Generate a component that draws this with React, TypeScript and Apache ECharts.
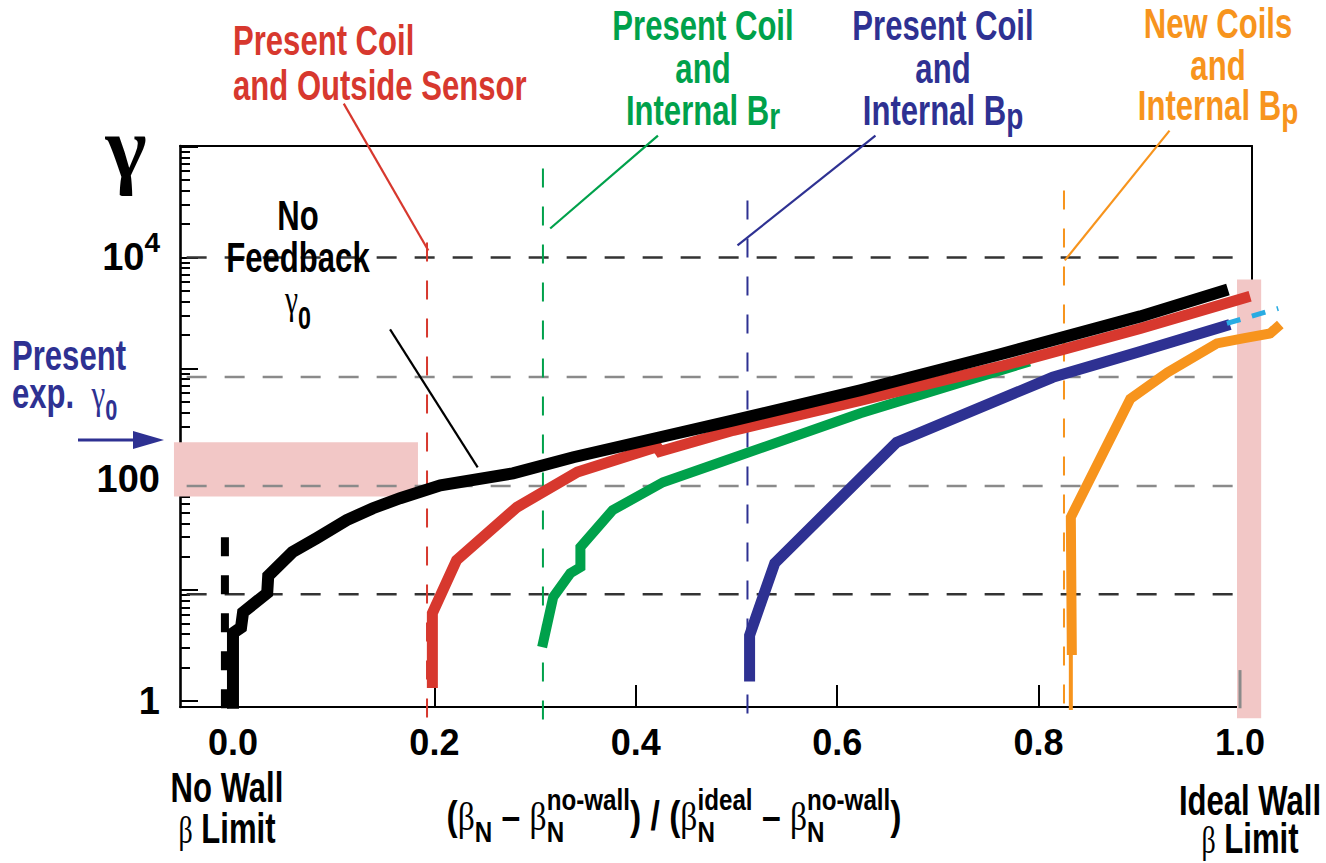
import React, { useEffect, useRef } from "react";
import * as echarts from "echarts";

const W = 1326;
const H = 863;

// ---------------- data: [normalized beta, growth rate gamma] ----------------
const noFeedback: [number, number][] = [
  [0, 0.85], [0, 4.1], [0.008, 4.6], [0.01, 6.3], [0.034, 9.4], [0.035, 13.4],
  [0.059, 22], [0.083, 29.4], [0.113, 42.8], [0.139, 54.8], [0.166, 67.5],
  [0.206, 88], [0.278, 113], [0.338, 158], [0.424, 239], [0.497, 340],
  [0.623, 634], [0.762, 1340], [0.901, 2940], [0.988, 5150],
];
const outsideSensor: [number, number][] = [
  [0.198, 1.31], [0.198, 6.2], [0.222, 18.6], [0.282, 56], [0.342, 116],
  [0.421, 196], [0.424, 178], [0.497, 276], [0.623, 515], [0.762, 1040],
  [0.901, 2290], [1.01, 4460],
];
const internalBr: [number, number][] = [
  [0.307, 3.06], [0.318, 8.65], [0.335, 14.2], [0.345, 16.1], [0.345, 24.4],
  [0.377, 52.6], [0.427, 94], [0.484, 142], [0.623, 393], [0.791, 1156],
];
const internalBp: [number, number][] = [
  [0.513, 1.5], [0.513, 3.9], [0.538, 17.5], [0.659, 215], [0.814, 830],
  [0.901, 1420], [0.99, 2490],
];
const internalBpExtension: [number, number][] = [[0.987, 2540], [1.038, 3470]];
const newCoilsLow: [number, number][] = [[0.832, 0.83], [0.832, 2.6]];
const newCoils: [number, number][] = [
  [0.833, 2.6], [0.832, 45.5], [0.891, 530], [0.928, 920], [0.977, 1679],
  [1.003, 1862], [1.03, 2067], [1.04, 2490],
];
const noWallMarker: [number, number][] = [[-0.008, 30], [-0.008, 0.86]];
const idealWallMarker: [number, number][] = [[1.0, 0.86], [1.0, 1.9]];

// horizontal reference levels of gamma
const referenceLevels = [10000, 835, 87, 9.2];
const referenceLevelRange = [-0.046, 1.0];

// feedback limits: [x, gamma top, gamma bottom]
const feedbackLimits: [number, number, number][] = [
  [0.1927, 13650, 0.62],
  [0.3078, 63400, 0.674],
  [0.5109, 32640, 0.674],
  [0.8252, 40180, 0.75],
];

// leader lines from labels: [[x, gamma], [x, gamma]]
const leaders: [number, number][][] = [
  [[0.110, 244000], [0.194, 11550]],
  [[0.422, 125600], [0.315, 18250]],
  [[0.638, 125600], [0.501, 12830]],
  [[0.930, 139300], [0.826, 9400]],
  [[0.156, 2245], [0.243, 128]],
];

// shaded bands: [x0, x1, gamma low, gamma high]
const presentExpBand = [-0.0586, 0.1837, 70, 215];
const idealWallBand = [0.997, 1.021, 0.7, 6340];

// axes
const yMajorDecades = [0, 1, 2, 3, 4, 5];
const yLabelDecades = [0, 2, 4];
const xTickValues = [0.2, 0.4, 0.6, 0.8];
const xLabelValues = [0, 0.2, 0.4, 0.6, 0.8, 1.0];

// ---------------- styles ----------------
const RED = "#d7382e";
const GREEN = "#00a14b";
const BLUE = "#2e3192";
const ORANGE = "#f7941d";
const CYAN = "#29abe2";
const PINK = "#f2c7c6";
const NARROW = '"Liberation Sans Narrow", "Liberation Sans", Arial, sans-serif';
const SANS = '"Liberation Sans", Arial, sans-serif';
const SERIF = '"Liberation Serif", "Times New Roman", serif';

const X_MIN = -0.0526;
const X_MAX = 1.0119;
const Y_MIN = -0.054;
const Y_MAX = 5.005;

const lg = (v: number) => Math.log10(v);
const toXY = (pts: [number, number][]) => pts.map(([x, g]) => [x, lg(g)]);

// polyline drawn through the cartesian scales, not clipped to the grid
function polySeries(pts: [number, number][], color: string, width: number, z: number, dash?: number[]) {
  const data = toXY(pts);
  return {
    type: "custom",
    data,
    clip: false,
    silent: true,
    z,
    encode: { x: 0, y: 1 },
    renderItem: (params: any, api: any) => {
      if (params.dataIndex !== 0) return null;
      const points = data.map((d) => api.coord(d));
      return {
        type: "polyline",
        shape: { points },
        style: {
          stroke: color,
          lineWidth: width,
          fill: "none",
          lineDash: dash || null,
          lineCap: "butt",
          lineJoin: "miter",
          miterLimit: 4,
        },
      };
    },
  };
}

function bandSeries(band: number[]) {
  return {
    type: "custom",
    data: [band],
    clip: false,
    silent: true,
    z: 1,
    encode: { x: [0, 1], y: [2, 3] },
    renderItem: (_p: any, api: any) => {
      const a = api.coord([api.value(0), lg(api.value(3))]);
      const b = api.coord([api.value(1), lg(api.value(2))]);
      return {
        type: "rect",
        shape: { x: a[0], y: a[1], width: b[0] - a[0], height: b[1] - a[1] },
        style: { fill: PINK },
      };
    },
  };
}

// ---------------- annotation text ----------------
type Seg = { t: string; greek?: boolean; heavy?: boolean; r?: number; dy?: number; keep?: boolean };
type TLine = { segs: Seg[]; baseline: number };
type Label = { x: number; align: "left" | "center"; color: string; size: number; sx: number; lines: TLine[] };

const S = (t: string): Seg => ({ t });

const labels: Label[] = [
  { x: 233, align: "left", color: RED, size: 42, sx: 0.74, lines: [
    { segs: [S("Present Coil")], baseline: 55 },
    { segs: [S("and Outside Sensor")], baseline: 100 },
  ] },
  { x: 703, align: "center", color: GREEN, size: 42, sx: 0.74, lines: [
    { segs: [S("Present Coil")], baseline: 40 },
    { segs: [S("and")], baseline: 83 },
    { segs: [S("Internal B"), { t: "r", r: 0.9, dy: 4 }], baseline: 125 },
  ] },
  { x: 943, align: "center", color: BLUE, size: 42, sx: 0.74, lines: [
    { segs: [S("Present Coil")], baseline: 40 },
    { segs: [S("and")], baseline: 83 },
    { segs: [S("Internal B"), { t: "p", r: 0.9, dy: 4 }], baseline: 125 },
  ] },
  { x: 1218, align: "center", color: ORANGE, size: 42, sx: 0.74, lines: [
    { segs: [S("New Coils")], baseline: 38 },
    { segs: [S("and")], baseline: 80 },
    { segs: [S("Internal B"), { t: "p", r: 0.9, dy: 4 }], baseline: 120 },
  ] },
  { x: 298, align: "center", color: "#000", size: 42, sx: 0.74, lines: [
    { segs: [S("No")], baseline: 230 },
    { segs: [S("Feedback")], baseline: 272 },
    { segs: [{ t: "γ", greek: true, r: 0.95 }, { t: "0", r: 0.75, dy: 15 }], baseline: 314 },
  ] },
  { x: 12, align: "left", color: BLUE, size: 42, sx: 0.74, lines: [
    { segs: [S("Present")], baseline: 370 },
    { segs: [S("exp.  "), { t: "γ", greek: true }, { t: "0", r: 0.7, dy: 12 }], baseline: 408 },
  ] },
  { x: 227, align: "center", color: "#000", size: 42, sx: 0.74, lines: [
    { segs: [S("No Wall")], baseline: 802 },
    { segs: [{ t: "β", greek: true, r: 0.9 }, S(" Limit")], baseline: 843 },
  ] },
  { x: 1250, align: "center", color: "#000", size: 42, sx: 0.74, lines: [
    { segs: [S("Ideal Wall")], baseline: 815 },
    { segs: [{ t: "β", greek: true, r: 0.9 }, S(" Limit")], baseline: 853 },
  ] },
  { x: 126, align: "center", color: "#000", size: 88, sx: 1, lines: [
    { segs: [{ t: "γ", greek: true, heavy: true }], baseline: 178 },
  ] },
  { x: 674, align: "center", color: "#000", size: 40, sx: 0.84, lines: [
    { segs: [
      S("("), { t: "β", greek: true }, { t: "N", r: 0.72, dy: 12 }, S(" – "),
      { t: "β", greek: true }, { t: "N", r: 0.72, dy: 12, keep: true }, { t: "no-wall", r: 0.72, dy: -20 },
      S(") / ("), { t: "β", greek: true }, { t: "N", r: 0.72, dy: 12, keep: true }, { t: "ideal", r: 0.72, dy: -20 },
      S(" – "), { t: "β", greek: true }, { t: "N", r: 0.72, dy: 12, keep: true }, { t: "no-wall", r: 0.72, dy: -20 },
      S(")"),
    ], baseline: 830 },
  ] },
];

function buildLabelElements(): any[] {
  const canvas = document.createElement("canvas");
  const ctx = canvas.getContext("2d")!;
  const els: any[] = [];
  for (const lab of labels) {
    for (const line of lab.lines) {
      let x = 0;
      let pending = 0;
      const placed: any[] = [];
      for (const s of line.segs) {
        const size = lab.size * (s.r ?? 1);
        const fam = s.greek ? SERIF : SANS;
        const weight = s.greek && !s.heavy ? "normal" : "bold";
        ctx.font = `${weight} ${size}px ${fam}`;
        const w = ctx.measureText(s.t).width;
        placed.push({ s, x, size, fam, weight });
        if (s.keep) {
          pending = w;
        } else {
          x += Math.max(w, pending);
          pending = 0;
        }
      }
      const x0 = lab.align === "center" ? lab.x - (x * lab.sx) / 2 : lab.x;
      for (const p of placed) {
        const base = line.baseline + (p.s.dy ?? 0);
        els.push({
          type: "text",
          x: x0 + p.x * lab.sx,
          y: base - 0.345 * p.size,
          scaleX: lab.sx,
          silent: true,
          z: 20,
          style: {
            text: p.s.t,
            fontSize: p.size,
            fontFamily: p.fam,
            fontWeight: p.weight,
            fill: lab.color,
            align: "left",
            verticalAlign: "middle",
            lineHeight: Math.round(p.size * 0.85),
          },
        });
      }
    }
  }
  // arrow pointing at the present experimental growth rate
  els.push({ type: "line", silent: true, z: 20, shape: { x1: 78, y1: 440, x2: 140, y2: 440 }, style: { stroke: BLUE, lineWidth: 3 } });
  els.push({ type: "polygon", silent: true, z: 20, shape: { points: [[133, 431], [164, 440], [133, 449]] }, style: { fill: BLUE } });
  return els;
}

function buildOption(): any {
  const minorTicks: number[] = [];
  for (let d = 0; d < 5; d++) for (let k = 2; k <= 9; k++) minorTicks.push(lg(k * Math.pow(10, d)));

  const series: any[] = [];
  series.push(bandSeries(presentExpBand));
  series.push(bandSeries(idealWallBand));

  referenceLevels.forEach((v, i) => {
    const dark = i === 0 || i === 3;
    series.push(polySeries([[referenceLevelRange[0], v], [referenceLevelRange[1], v]], dark ? "#333" : "#8a8a8a", 2.5, 2, [20, 18]));
  });
  const limitColors = [RED, GREEN, BLUE, ORANGE];
  feedbackLimits.forEach(([x, top, bottom], i) => {
    series.push(polySeries([[x, top], [x, bottom]], limitColors[i], 2, 2, [19, 19]));
  });
  const leaderColors = [RED, GREEN, BLUE, ORANGE, "#000"];
  leaders.forEach((pts, i) => series.push(polySeries(pts, leaderColors[i], 2.2, 4)));

  series.push(polySeries(idealWallMarker, "#8a8a8a", 3, 2));
  series.push(polySeries(noWallMarker, "#000", 8, 3, [19, 19]));
  series.push(polySeries(internalBr, GREEN, 10, 3));
  series.push(polySeries(outsideSensor, RED, 11, 3));
  series.push(polySeries(internalBp, BLUE, 11, 3));
  series.push(polySeries(internalBpExtension, CYAN, 5, 3, [14, 12]));
  series.push(polySeries(newCoilsLow, ORANGE, 4, 3));
  series.push(polySeries(newCoils, ORANGE, 10, 3));
  series.push(polySeries(noFeedback, "#000", 12, 3));

  return {
    animation: false,
    backgroundColor: "#fff",
    grid: { left: 180, right: W - 1252, top: 146, bottom: H - 707, containLabel: false },
    xAxis: [
      {
        type: "value", min: X_MIN, max: X_MAX, position: "bottom",
        splitLine: { show: false },
        axisLine: { show: true, onZero: false, lineStyle: { color: "#000", width: 2 } },
        axisTick: { show: true, inside: true, length: 22, customValues: xTickValues, lineStyle: { color: "#000", width: 2 } },
        axisLabel: {
          show: true, customValues: xLabelValues, margin: 17,
          formatter: (v: number) => v.toFixed(1),
          fontSize: 36, fontWeight: "bold", fontFamily: NARROW, color: "#000",
        },
      },
      {
        type: "value", min: X_MIN, max: X_MAX, position: "top",
        splitLine: { show: false },
        axisLine: { show: true, onZero: false, lineStyle: { color: "#000", width: 2 } },
        axisTick: { show: false }, axisLabel: { show: false },
      },
    ],
    yAxis: [
      {
        type: "value", min: Y_MIN, max: Y_MAX, position: "left",
        splitLine: { show: false },
        axisLine: { show: true, onZero: false, lineStyle: { color: "#000", width: 2.6 } },
        axisTick: { show: true, inside: true, length: 18, customValues: yMajorDecades, lineStyle: { color: "#000", width: 2 } },
        axisLabel: {
          show: true, customValues: yLabelDecades, margin: 20,
          formatter: (v: number) => (v === 0 ? "1" : v === 2 ? "100" : "{m|10}{s|4}"),
          fontSize: 38, fontWeight: "bold", fontFamily: NARROW, color: "#000",
          rich: {
            m: { fontSize: 38, fontWeight: "bold", fontFamily: NARROW, color: "#000", verticalAlign: "middle" },
            s: { fontSize: 28, fontWeight: "bold", fontFamily: NARROW, color: "#000", verticalAlign: "middle", padding: [0, 0, 30, 0] },
          },
        },
      },
      {
        type: "value", min: Y_MIN, max: Y_MAX, position: "left",
        splitLine: { show: false },
        axisLine: { show: false, onZero: false },
        axisTick: { show: true, inside: true, length: 10, customValues: minorTicks, lineStyle: { color: "#000", width: 2 } },
        axisLabel: { show: false },
      },
      {
        type: "value", min: Y_MIN, max: Y_MAX, position: "right",
        splitLine: { show: false },
        axisLine: { show: true, onZero: false, lineStyle: { color: "#000", width: 2 } },
        axisTick: { show: false }, axisLabel: { show: false },
      },
    ],
    series,
    graphic: { elements: buildLabelElements() },
  };
}

export default function App() {
  const ref = useRef<HTMLDivElement>(null);
  useEffect(() => {
    if (!ref.current) return;
    const chart = echarts.init(ref.current, null, { renderer: "svg" });
    chart.setOption(buildOption());
    return () => chart.dispose();
  }, []);
  return (
    <div
      ref={ref}
      style={{ position: "absolute", left: 0, top: 0, width: W, height: H, background: "#fff" }}
    />
  );
}
